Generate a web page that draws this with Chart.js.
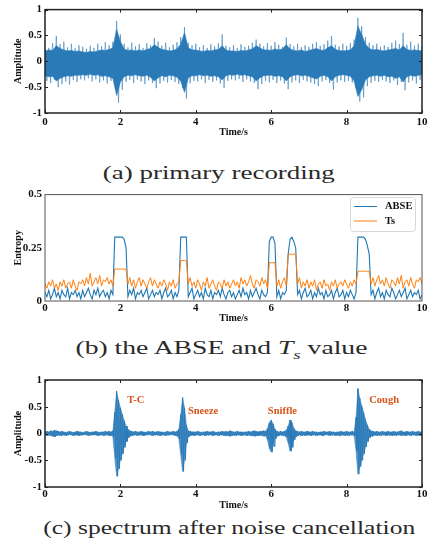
<!DOCTYPE html>
<html>
<head>
<meta charset="utf-8">
<script src="https://cdn.jsdelivr.net/npm/chart.js@4.4.0/dist/chart.umd.min.js"></script>
<style>
  body { margin: 0; background: #fff; }
  #page { position: relative; width: 432px; height: 559px; overflow: hidden; background: #fff; }
  .panel { position: absolute; left: 0; width: 432px; }
  .cap { position: absolute; width: 432px; height: 24px; line-height: 24px; text-align: center;
         font-family: "Liberation Serif", serif; font-size: 19px; color: #2a2a2a; white-space: nowrap; }
  .cap span { display: inline-block; transform-origin: center; }
</style>
</head>
<body>
<div id="page">
  <div class="panel" style="top:0;height:140px"><canvas id="chartA" width="432" height="140"></canvas></div>
  <div class="cap" style="left:3px;top:161px" data-w="232"><span>(a) primary recording</span></div>
  <div class="panel" style="top:185px;height:140px"><canvas id="chartB" width="432" height="140"></canvas></div>
  <div class="cap" style="left:5px;top:336px" data-w="292"><span>(b) the ABSE and <i>T</i><sub style="font-size:13px;font-style:italic;line-height:0">s</sub> value</span></div>
  <div class="panel" style="top:370px;height:145px"><canvas id="chartC" width="432" height="145"></canvas></div>
  <div class="cap" style="left:13px;top:516px" data-w="372"><span>(c) spectrum after noise cancellation</span></div>
</div>
<script>
// (a) primary recording, every 0.1 s: spike peaks (hi/lo) and the dense core (coreHi/coreLo)
const hiA = [0.30,0.26,0.35,0.49,0.33,0.38,0.27,0.34,0.25,0.31,
  0.28,0.24,0.30,0.26,0.34,0.29,0.37,0.31,0.38,0.78,
  0.52,0.34,0.27,0.36,0.29,0.33,0.26,0.35,0.31,0.45,
  0.38,0.30,0.36,0.27,0.32,0.37,0.47,0.66,0.36,0.31,
  0.34,0.27,0.31,0.26,0.33,0.29,0.35,0.52,0.30,0.27,
  0.31,0.26,0.33,0.28,0.30,0.36,0.42,0.34,0.29,0.35,
  0.30,0.37,0.32,0.28,0.46,0.33,0.29,0.34,0.27,0.31,
  0.28,0.34,0.37,0.30,0.33,0.40,0.49,0.32,0.29,0.34,
  0.30,0.35,0.42,0.84,0.68,0.47,0.36,0.31,0.34,0.28,
  0.31,0.28,0.36,0.40,0.33,0.55,0.32,0.38,0.30,0.34,0.29];
const loA = [-0.38,-0.42,-0.36,-0.50,-0.44,-0.39,-0.45,-0.36,-0.40,-0.35,
  -0.37,-0.33,-0.39,-0.35,-0.41,-0.37,-0.43,-0.38,-0.44,-0.80,
  -0.55,-0.40,-0.36,-0.42,-0.35,-0.39,-0.44,-0.37,-0.42,-0.52,
  -0.43,-0.38,-0.41,-0.36,-0.40,-0.44,-0.52,-0.72,-0.43,-0.38,
  -0.39,-0.35,-0.42,-0.36,-0.40,-0.37,-0.43,-0.52,-0.38,-0.35,
  -0.37,-0.34,-0.40,-0.35,-0.39,-0.42,-0.54,-0.44,-0.38,-0.41,
  -0.36,-0.42,-0.37,-0.43,-0.54,-0.41,-0.37,-0.42,-0.36,-0.39,
  -0.41,-0.44,-0.48,-0.39,-0.36,-0.42,-0.55,-0.41,-0.37,-0.40,
  -0.38,-0.41,-0.52,-0.78,-0.70,-0.48,-0.42,-0.38,-0.40,-0.36,
  -0.39,-0.42,-0.37,-0.46,-0.40,-0.56,-0.41,-0.37,-0.43,-0.36,-0.35];
const coreHiA = [0.20,0.22,0.21,0.30,0.25,0.22,0.20,0.21,0.19,0.20,
  0.18,0.17,0.19,0.18,0.20,0.22,0.21,0.23,0.26,0.62,
  0.38,0.24,0.21,0.22,0.20,0.22,0.20,0.23,0.25,0.32,
  0.27,0.23,0.22,0.20,0.21,0.24,0.33,0.55,0.26,0.22,
  0.22,0.20,0.19,0.21,0.20,0.22,0.23,0.30,0.22,0.20,
  0.20,0.19,0.21,0.20,0.22,0.24,0.30,0.26,0.22,0.22,
  0.21,0.24,0.22,0.24,0.32,0.24,0.21,0.20,0.22,0.19,
  0.21,0.23,0.25,0.22,0.21,0.26,0.30,0.23,0.21,0.20,
  0.21,0.22,0.30,0.68,0.52,0.33,0.25,0.22,0.23,0.21,
  0.20,0.22,0.23,0.25,0.22,0.30,0.23,0.21,0.22,0.21,0.20];
const coreLoA = [-0.28,-0.30,-0.29,-0.38,-0.33,-0.30,-0.28,-0.29,-0.27,-0.27,
  -0.26,-0.27,-0.25,-0.27,-0.26,-0.29,-0.28,-0.30,-0.33,-0.66,
  -0.40,-0.30,-0.27,-0.28,-0.26,-0.28,-0.29,-0.27,-0.31,-0.38,
  -0.32,-0.28,-0.30,-0.27,-0.28,-0.31,-0.38,-0.60,-0.32,-0.28,
  -0.28,-0.26,-0.28,-0.27,-0.29,-0.28,-0.30,-0.36,-0.28,-0.26,
  -0.27,-0.25,-0.27,-0.26,-0.28,-0.30,-0.38,-0.32,-0.28,-0.27,
  -0.27,-0.29,-0.28,-0.30,-0.38,-0.30,-0.27,-0.26,-0.28,-0.27,
  -0.29,-0.32,-0.34,-0.29,-0.27,-0.30,-0.38,-0.30,-0.27,-0.26,
  -0.27,-0.29,-0.38,-0.68,-0.55,-0.36,-0.30,-0.28,-0.27,-0.29,
  -0.27,-0.30,-0.29,-0.33,-0.30,-0.40,-0.30,-0.27,-0.29,-0.27,-0.26];

// (b) ABSE and Ts, every 0.05 s
const abse = [0.04,0.02,0.05,0.01,0.03,0.06,0.02,0.04,0.01,0.05,0.03,0.02,0.06,0.01,0.04,0.03,0.05,0.02,0.04,0.01,
  0.05,0.02,0.04,0.06,0.03,0.01,0.05,0.03,0.06,0.02,0.04,0.05,0.02,0.04,0.01,0.05,0.03,0.30,0.30,0.30,
  0.30,0.30,0.29,0.25,0.02,0.05,0.03,0.06,0.01,0.04,0.03,0.05,0.02,0.04,0.06,0.01,0.03,0.05,0.02,0.04,
  0.03,0.05,0.01,0.04,0.06,0.02,0.03,0.05,0.01,0.04,0.02,0.05,0.30,0.30,0.30,0.30,0.02,0.04,0.06,0.01,
  0.03,0.05,0.02,0.04,0.01,0.06,0.03,0.02,0.05,0.01,0.04,0.03,0.05,0.02,0.06,0.03,0.01,0.04,0.05,0.02,
  0.04,0.01,0.03,0.05,0.02,0.06,0.03,0.04,0.01,0.05,0.02,0.04,0.06,0.03,0.01,0.05,0.03,0.02,0.04,0.28,
  0.30,0.30,0.27,0.02,0.05,0.01,0.04,0.03,0.05,0.22,0.29,0.30,0.28,0.25,0.03,0.05,0.01,0.04,0.06,0.02,
  0.03,0.05,0.01,0.04,0.02,0.06,0.03,0.04,0.01,0.05,0.02,0.03,0.05,0.01,0.04,0.06,0.02,0.03,0.05,0.01,
  0.04,0.02,0.05,0.03,0.01,0.04,0.30,0.30,0.30,0.30,0.29,0.26,0.22,0.03,0.05,0.01,0.04,0.06,0.02,0.04,
  0.01,0.05,0.03,0.02,0.06,0.04,0.01,0.03,0.05,0.02,0.04,0.06,0.01,0.03,0.05,0.02,0.04,0.03,0.05,0.01,
  0.03];
const ts = [0.08,0.06,0.09,0.07,0.10,0.06,0.08,0.05,0.09,0.07,0.10,0.06,0.08,0.09,0.06,0.10,0.07,0.05,0.09,0.08,
  0.10,0.07,0.11,0.08,0.13,0.07,0.09,0.11,0.08,0.12,0.07,0.10,0.09,0.11,0.08,0.10,0.07,0.15,0.15,0.15,
  0.15,0.15,0.15,0.15,0.08,0.11,0.07,0.10,0.06,0.09,0.11,0.07,0.10,0.08,0.06,0.09,0.11,0.07,0.10,0.08,
  0.06,0.09,0.07,0.10,0.08,0.05,0.09,0.07,0.10,0.06,0.08,0.09,0.19,0.19,0.19,0.19,0.08,0.11,0.07,0.09,
  0.06,0.10,0.08,0.05,0.09,0.07,0.11,0.06,0.08,0.10,0.07,0.05,0.09,0.08,0.06,0.10,0.07,0.09,0.06,0.08,
  0.10,0.07,0.09,0.06,0.11,0.08,0.10,0.07,0.09,0.12,0.08,0.06,0.10,0.09,0.07,0.11,0.08,0.10,0.06,0.18,
  0.18,0.18,0.18,0.07,0.10,0.06,0.09,0.11,0.07,0.22,0.22,0.22,0.22,0.22,0.08,0.11,0.06,0.09,0.07,0.10,
  0.06,0.09,0.07,0.10,0.05,0.08,0.09,0.06,0.10,0.07,0.08,0.05,0.09,0.07,0.10,0.06,0.08,0.09,0.07,0.10,
  0.08,0.06,0.09,0.07,0.10,0.08,0.14,0.14,0.14,0.14,0.14,0.14,0.14,0.08,0.11,0.07,0.10,0.12,0.08,0.10,
  0.07,0.11,0.08,0.06,0.10,0.09,0.07,0.11,0.08,0.12,0.06,0.09,0.10,0.07,0.11,0.08,0.06,0.10,0.09,0.11,
  0.08];

// (c) after noise cancellation: peak envelope every 0.05 s
const hiC = [0.03,0.04,0.03,0.05,0.04,0.06,0.05,0.04,0.03,0.04,0.03,0.02,0.03,0.04,0.03,0.02,0.03,0.04,0.03,0.03,
  0.02,0.03,0.04,0.03,0.02,0.03,0.03,0.04,0.03,0.02,0.03,0.03,0.04,0.03,0.04,0.03,0.05,0.40,0.79,0.62,
  0.48,0.36,0.24,0.14,0.08,0.05,0.04,0.03,0.04,0.03,0.03,0.04,0.03,0.02,0.03,0.04,0.03,0.04,0.03,0.03,
  0.04,0.03,0.03,0.02,0.03,0.04,0.03,0.03,0.04,0.03,0.04,0.08,0.35,0.67,0.48,0.16,0.05,0.04,0.03,0.03,
  0.03,0.04,0.03,0.02,0.03,0.03,0.04,0.03,0.03,0.04,0.03,0.02,0.03,0.03,0.04,0.03,0.04,0.03,0.05,0.04,
  0.03,0.03,0.04,0.03,0.03,0.02,0.03,0.03,0.04,0.03,0.04,0.05,0.04,0.03,0.04,0.04,0.05,0.04,0.09,0.20,
  0.25,0.18,0.08,0.04,0.03,0.04,0.03,0.04,0.06,0.14,0.25,0.20,0.10,0.05,0.04,0.03,0.04,0.03,0.03,0.04,
  0.03,0.03,0.04,0.03,0.03,0.02,0.03,0.03,0.04,0.03,0.03,0.04,0.03,0.03,0.02,0.03,0.03,0.04,0.03,0.03,
  0.04,0.03,0.03,0.04,0.03,0.30,0.84,0.66,0.52,0.40,0.26,0.16,0.08,0.05,0.04,0.03,0.04,0.03,0.03,0.04,
  0.03,0.03,0.04,0.03,0.03,0.04,0.03,0.03,0.04,0.05,0.03,0.03,0.04,0.03,0.03,0.04,0.03,0.03,0.04,0.03,
  0.03];
const loC = [-0.03,-0.04,-0.03,-0.04,-0.05,-0.06,-0.04,-0.03,-0.04,-0.03,-0.03,-0.04,-0.03,-0.02,-0.03,-0.04,-0.03,-0.03,-0.04,-0.03,
  -0.03,-0.02,-0.03,-0.04,-0.03,-0.03,-0.02,-0.03,-0.04,-0.03,-0.03,-0.04,-0.03,-0.03,-0.04,-0.03,-0.06,-0.45,-0.80,-0.66,
  -0.50,-0.38,-0.26,-0.15,-0.08,-0.05,-0.04,-0.03,-0.03,-0.04,-0.03,-0.03,-0.04,-0.03,-0.03,-0.02,-0.03,-0.04,-0.03,-0.03,
  -0.03,-0.04,-0.03,-0.03,-0.04,-0.03,-0.03,-0.02,-0.03,-0.04,-0.04,-0.10,-0.40,-0.71,-0.50,-0.18,-0.06,-0.04,-0.03,-0.04,
  -0.03,-0.03,-0.04,-0.03,-0.03,-0.04,-0.03,-0.02,-0.03,-0.04,-0.03,-0.03,-0.04,-0.03,-0.03,-0.04,-0.03,-0.04,-0.05,-0.04,
  -0.03,-0.04,-0.03,-0.03,-0.04,-0.03,-0.03,-0.04,-0.03,-0.04,-0.04,-0.05,-0.04,-0.04,-0.03,-0.04,-0.05,-0.04,-0.12,-0.28,
  -0.35,-0.24,-0.10,-0.05,-0.04,-0.03,-0.04,-0.04,-0.07,-0.18,-0.33,-0.26,-0.12,-0.06,-0.04,-0.03,-0.04,-0.03,-0.04,-0.03,
  -0.03,-0.04,-0.03,-0.03,-0.04,-0.03,-0.03,-0.04,-0.03,-0.02,-0.03,-0.04,-0.03,-0.03,-0.04,-0.03,-0.04,-0.03,-0.03,-0.04,
  -0.03,-0.04,-0.03,-0.03,-0.04,-0.32,-0.76,-0.62,-0.50,-0.38,-0.25,-0.15,-0.08,-0.05,-0.04,-0.03,-0.04,-0.03,-0.04,-0.03,
  -0.03,-0.04,-0.03,-0.03,-0.04,-0.03,-0.04,-0.03,-0.03,-0.04,-0.03,-0.04,-0.03,-0.03,-0.04,-0.03,-0.03,-0.04,-0.03,-0.04,
  -0.03];

const notesC = ['T-C', 'Sneeze', 'Sniffle', 'Cough'];
const notesX = [2.18, 3.79, 5.91, 8.6];
const notesY = [0.63, 0.42, 0.42, 0.63];

const xTicks = [0, 2, 4, 6, 8, 10];

const BLUE = '#2a7ab8';
const serif = 'Liberation Serif';

// waveform drawn as max/min pairs: peak at t, trough half a step later
function zigzag(hi, lo, step) {
  const pts = [];
  hi.forEach((v, i) => {
    pts.push({ x: i * step, y: v });
    pts.push({ x: i * step + step / 2, y: lo[i] });
  });
  return pts;
}

function series(vals, step) {
  return vals.map((v, i) => ({ x: i * step, y: v }));
}

// solid band between two envelopes
function band(hi, lo, step, fillColor) {
  return [
    { data: series(hi, step), borderColor: fillColor, borderWidth: 0.6, pointRadius: 0, tension: 0,
      fill: '+1', backgroundColor: fillColor },
    { data: series(lo, step), borderColor: fillColor, borderWidth: 0.6, pointRadius: 0, tension: 0, fill: false }
  ];
}

// box round the plot + inward ticks
const frame = {
  id: 'frame',
  afterDatasetsDraw(chart, args, opts) {
    const { ctx, chartArea: a, scales } = chart;
    ctx.save();
    ctx.strokeStyle = opts.color;
    if (opts.ticks) {
      ctx.lineWidth = 1;
      ctx.beginPath();
      scales.y.ticks.forEach(t => {
        const y = Math.round(scales.y.getPixelForValue(t.value)) + 0.5;
        ctx.moveTo(a.left, y); ctx.lineTo(a.left + 3, y);
        ctx.moveTo(a.right, y); ctx.lineTo(a.right - 3, y);
      });
      scales.x.ticks.forEach(t => {
        const x = Math.round(scales.x.getPixelForValue(t.value)) + 0.5;
        ctx.moveTo(x, a.bottom); ctx.lineTo(x, a.bottom - 3);
        ctx.moveTo(x, a.top); ctx.lineTo(x, a.top + 3);
      });
      ctx.stroke();
    }
    ctx.lineWidth = opts.width;
    ctx.strokeRect(a.left, a.top, a.right - a.left, a.bottom - a.top);
    ctx.restore();
  }
};

function scalesFor(yMin, yMax, yStep, yTitle, xHeight, xLabelPad, xTitlePad) {
  return {
    x: {
      type: 'linear', min: 0, max: 10,
      afterBuildTicks: s => { s.ticks = xTicks.map(v => ({ value: v })); },
      afterFit: s => { s.height = xHeight; },
      grid: { display: false, drawTicks: false },
      border: { display: false },
      ticks: { padding: xLabelPad, color: '#111', font: { family: serif, weight: 'bold', size: 11 }, maxRotation: 0,
               callback: v => String(v) },
      title: { display: true, text: 'Time/s', color: '#111', padding: { top: 0, bottom: xTitlePad },
               font: { family: serif, weight: 'bold', size: 10 } }
    },
    y: {
      min: yMin, max: yMax,
      afterFit: s => { s.width = 45; },
      grid: { display: false, drawTicks: false },
      border: { display: false },
      ticks: { stepSize: yStep, padding: 3, color: '#111', font: { family: serif, weight: 'bold', size: 11 },
               callback: v => String(Math.round(v * 100) / 100) },
      title: { display: true, text: yTitle, color: '#111', padding: { top: 12, bottom: 0 },
               font: { family: serif, weight: 'bold', size: 10 } }
    }
  };
}

const common = {
  responsive: false,
  animation: false,
  events: [],
  plugins: { legend: { display: false }, tooltip: { enabled: false } }
};

// (a): light spikes under a solid core
new Chart(document.getElementById('chartA'), {
  type: 'line',
  data: { datasets: [
    { data: zigzag(hiA, loA, 0.1), borderColor: 'rgba(42,122,184,0.55)', borderWidth: 1, pointRadius: 0, tension: 0,
      fill: false, order: 3 },
    ...band(coreHiA, coreLoA, 0.1, BLUE)
  ] },
  options: {
    ...common,
    layout: { padding: { top: 6, right: 10, left: 0, bottom: 0 } },
    scales: scalesFor(-1, 1, 0.5, 'Amplitude', 27, 3, 2),
    plugins: { ...common.plugins, frame: { color: '#222', width: 1.5, ticks: true } }
  },
  plugins: [frame]
});

// (b)
const legendB = {
  id: 'legendB',
  afterDraw(chart) {
    const ctx = chart.ctx;
    ctx.save();
    ctx.fillStyle = 'rgba(255,255,255,0.85)';
    ctx.strokeStyle = '#d8d8d8';
    ctx.lineWidth = 1;
    ctx.beginPath();
    ctx.roundRect(350.5, 12.5, 65, 34, 3);
    ctx.fill(); ctx.stroke();
    const rows = [['ABSE', '#1f77b4', 21.5], ['Ts', '#ff7f0e', 36]];
    ctx.font = 'bold 10.5px "Liberation Serif"';
    ctx.textBaseline = 'middle';
    rows.forEach(([label, color, y]) => {
      ctx.strokeStyle = color;
      ctx.beginPath(); ctx.moveTo(354, y); ctx.lineTo(377, y); ctx.stroke();
      ctx.fillStyle = '#111';
      ctx.fillText(label, 385, y);
    });
    ctx.restore();
  }
};

new Chart(document.getElementById('chartB'), {
  type: 'line',
  data: { datasets: [
    { label: 'ABSE', data: series(abse, 0.05), borderColor: '#1f77b4', borderWidth: 1.1, pointRadius: 0, tension: 0, order: 2 },
    { label: 'Ts', data: series(ts, 0.05), borderColor: '#ff7f0e', borderWidth: 1, pointRadius: 0, tension: 0, order: 1 }
  ] },
  options: {
    ...common,
    layout: { padding: { top: 8, right: 10, left: 0, bottom: 0 } },
    scales: scalesFor(0, 0.5, 0.25, 'Entropy', 24, 1, 1),
    plugins: { ...common.plugins, frame: { color: '#555', width: 1, ticks: false } }
  },
  plugins: [frame, legendB]
});

// (c)
const notes = {
  id: 'notes',
  afterDatasetsDraw(chart) {
    const { ctx, scales } = chart;
    ctx.save();
    ctx.font = 'bold 10.5px "Liberation Serif"';
    ctx.fillStyle = '#d95319';
    ctx.textBaseline = 'middle';
    notesC.forEach((txt, i) => {
      ctx.fillText(txt, scales.x.getPixelForValue(notesX[i]), scales.y.getPixelForValue(notesY[i]));
    });
    ctx.restore();
  }
};

new Chart(document.getElementById('chartC'), {
  type: 'line',
  data: { datasets: [
    { data: zigzag(hiC, loC, 0.05), borderColor: BLUE, borderWidth: 1, pointRadius: 0, tension: 0, fill: false },
    ...band(hiC, loC, 0.05, 'rgba(42,122,184,0.8)')
  ] },
  options: {
    ...common,
    layout: { padding: { top: 10, right: 10, left: 0, bottom: 0 } },
    scales: scalesFor(-1, 1, 0.5, 'Amplitude', 28, 1, 4),
    plugins: { ...common.plugins, frame: { color: '#222', width: 1.5, ticks: true } }
  },
  plugins: [frame, notes]
});

// stretch the captions to the width they have in the figure
document.querySelectorAll('.cap').forEach(el => {
  const span = el.firstElementChild;
  const w = span.getBoundingClientRect().width;
  span.style.transform = 'scaleX(' + (+el.dataset.w / w) + ')';
});
</script>
</body>
</html>
